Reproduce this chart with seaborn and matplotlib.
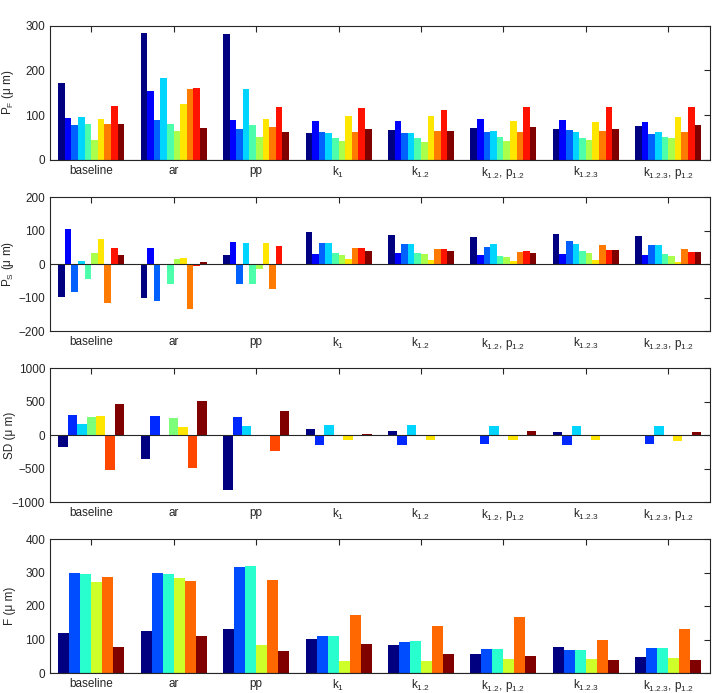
import matplotlib
matplotlib.use("Agg")
from matplotlib import pyplot as plt
import numpy as np
import pandas as pd
import seaborn as sns

groups = ["baseline", "ar", "pp", "k$_1$", "k$_{1.2}$", "k$_{1.2}$, p$_{1.2}$",
          "k$_{1.2.3}$", "k$_{1.2.3}$, p$_{1.2}$"]

# P_F, 10 bars per group
pf_vals = [
	[172, 93, 77, 96, 80, 44, 91, 80, 120, 80],
	[283, 153, 88, 182, 80, 65, 124, 159, 160, 71],
	[282, 89, 68, 159, 77, 50, 92, 74, 119, 63],
	[60, 87, 61, 60, 49, 42, 98, 61, 115, 69],
	[66, 86, 59, 60, 49, 40, 97, 64, 111, 64],
	[71, 91, 63, 65, 51, 42, 86, 62, 117, 73],
	[69, 89, 66, 62, 49, 45, 84, 64, 117, 69],
	[75, 85, 57, 63, 51, 48, 95, 63, 117, 77],
]

# P_S, 10 bars per group
ps_vals = [
	[-98, 105, -82, 10, -45, 33, 77, -116, 49, 27],
	[-100, 48, -109, -2, -59, 16, 20, -132, -6, 7],
	[29, 66, -60, 63, -58, -14, 63, -74, 56, 1],
	[97, 31, 63, 63, 34, 27, 16, 50, 48, 41],
	[87, 34, 62, 62, 34, 30, 13, 47, 46, 40],
	[81, 29, 52, 61, 25, 22, 11, 38, 40, 33],
	[89, 31, 69, 61, 40, 34, 12, 57, 43, 43],
	[83, 27, 58, 59, 30, 25, 8, 47, 37, 36],
]

# SD, 7 bars per group
sd_vals = [
	[-170, 305, 165, 270, 285, -525, 460],
	[-350, 285, 0, 255, 130, -490, 515],
	[-815, 270, 135, 0, 5, -230, 360],
	[95, -150, 160, 5, -70, 0, 20],
	[60, -140, 150, 3, -65, -5, -3],
	[0, -130, 140, 0, -75, 0, 60],
	[55, -140, 145, 3, -70, -5, 0],
	[0, -130, 140, 0, -90, 0, 45],
]

# F, 6 bars per group
f_vals = [
	[118, 300, 297, 272, 288, 79],
	[126, 299, 296, 284, 274, 109],
	[130, 315, 320, 85, 277, 66],
	[101, 111, 111, 35, 173, 86],
	[83, 94, 96, 36, 141, 58],
	[57, 71, 72, 42, 168, 51],
	[77, 68, 68, 41, 99, 39],
	[49, 74, 74, 46, 130, 40],
]

panels = [
	(pf_vals, "P$_F$ (μ m)", (0, 300), [0, 100, 200, 300]),
	(ps_vals, "P$_S$ (μ m)", (-200, 200), [-200, -100, 0, 100, 200]),
	(sd_vals, "SD (μ m)", (-1000, 1000), [-1000, -500, 0, 500, 1000]),
	(f_vals, "F (μ m)", (0, 400), [0, 100, 200, 300, 400]),
]

sns.set_style("white")
plt.rcParams["font.family"] = ["Liberation Sans", "DejaVu Sans"]
plt.rcParams["mathtext.default"] = "regular"
plt.rcParams["axes.linewidth"] = 0.8

fig = plt.figure(figsize=(7.13, 6.93), dpi=100)
W, H = 713, 693
left, right = 50, 709.5
tops = [25.7, 197.3, 368.3, 539]
ax_h = 134

ink = "#262626"

for k, (vals, ylab, ylim, yticks) in enumerate(panels):
	ax = fig.add_axes([left / W, 1 - (tops[k] + ax_h) / H, (right - left) / W, ax_h / H])
	nbar = len(vals[0])
	data = []
	for g in range(len(groups)):
		for b in range(nbar):
			data.append([groups[g], b, vals[g][b]])
	data = pd.DataFrame(data, columns=["group", "bar", "value"])
	pal = [plt.cm.jet(v) for v in np.linspace(0, 1, nbar)]
	sns.barplot(x="group", y="value", hue="bar", data=data, ax=ax, palette=pal,
	            order=groups, width=0.8, saturation=1, linewidth=0, legend=False)
	ax.axhline(0, color=ink, lw=0.8, zorder=5)
	ax.set_xlim(-0.5, len(groups) - 0.5)
	ax.set_ylim(*ylim)
	ax.set_yticks(yticks)
	ax.set_xlabel("")
	ax.set_ylabel(ylab, fontsize=8.5, color=ink)
	ax.yaxis.set_label_coords(-34.0 / (right - left), 0.5)
	ax.tick_params(direction="in", top=True, right=True, length=4, width=0.8,
	               labelsize=8.5, colors=ink, pad=3.5)
	ax.set_xticks(range(len(groups)))
	ax.set_xticklabels(groups)
	for s in ax.spines.values():
		s.set_color(ink)
		s.set_linewidth(0.8)

plt.savefig("out.png", dpi=100)
plt.close()
